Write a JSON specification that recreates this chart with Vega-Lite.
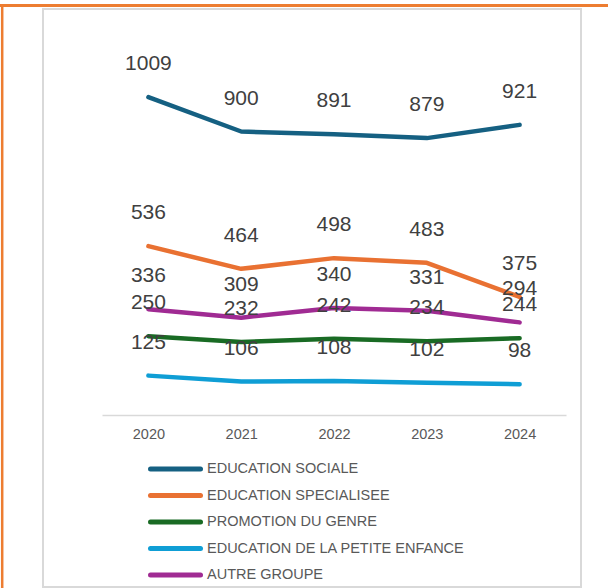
{
  "$schema": "https://vega.github.io/schema/vega-lite/v6.json",
  "width": 538,
  "height": 578,
  "autosize": {"type": "none"},
  "padding": {"left": 43, "top": 9, "right": 27, "bottom": 1},
  "background": "white",
  "config": {
    "font": "Liberation Sans",
    "view": {"stroke": "#d9d9d9", "strokeWidth": 2}
  },
  "datasets": {
    "enrol": [
      {"year": 2020, "series": "EDUCATION SOCIALE", "value": 1009},
      {"year": 2021, "series": "EDUCATION SOCIALE", "value": 900},
      {"year": 2022, "series": "EDUCATION SOCIALE", "value": 891},
      {"year": 2023, "series": "EDUCATION SOCIALE", "value": 879},
      {"year": 2024, "series": "EDUCATION SOCIALE", "value": 921},
      {"year": 2020, "series": "EDUCATION SPECIALISEE", "value": 536},
      {"year": 2021, "series": "EDUCATION SPECIALISEE", "value": 464},
      {"year": 2022, "series": "EDUCATION SPECIALISEE", "value": 498},
      {"year": 2023, "series": "EDUCATION SPECIALISEE", "value": 483},
      {"year": 2024, "series": "EDUCATION SPECIALISEE", "value": 375},
      {"year": 2020, "series": "PROMOTION DU GENRE", "value": 250},
      {"year": 2021, "series": "PROMOTION DU GENRE", "value": 232},
      {"year": 2022, "series": "PROMOTION DU GENRE", "value": 242},
      {"year": 2023, "series": "PROMOTION DU GENRE", "value": 234},
      {"year": 2024, "series": "PROMOTION DU GENRE", "value": 244},
      {"year": 2020, "series": "EDUCATION DE LA PETITE ENFANCE", "value": 125},
      {"year": 2021, "series": "EDUCATION DE LA PETITE ENFANCE", "value": 106},
      {"year": 2022, "series": "EDUCATION DE LA PETITE ENFANCE", "value": 108},
      {"year": 2023, "series": "EDUCATION DE LA PETITE ENFANCE", "value": 102},
      {"year": 2024, "series": "EDUCATION DE LA PETITE ENFANCE", "value": 98},
      {"year": 2020, "series": "AUTRE GROUPE", "value": 336},
      {"year": 2021, "series": "AUTRE GROUPE", "value": 309},
      {"year": 2022, "series": "AUTRE GROUPE", "value": 340},
      {"year": 2023, "series": "AUTRE GROUPE", "value": 331},
      {"year": 2024, "series": "AUTRE GROUPE", "value": 294}
    ]
  },
  "layer": [
    {
      "data": {"name": "enrol"},
      "mark": {"type": "line", "strokeWidth": 4.5, "strokeCap": "round", "strokeJoin": "round"},
      "encoding": {
        "x": {
          "field": "year", "type": "quantitative",
          "scale": {"domain": [2019.5, 2024.5], "range": [59, 523], "nice": false, "zero": false},
          "axis": {
            "title": null, "values": [2020, 2021, 2022, 2023, 2024], "format": "d",
            "grid": false, "ticks": false, "offset": -172,
            "domainColor": "#d9d9d9", "domainWidth": 1.7,
            "labelFontSize": 14.5, "labelColor": "#595959", "labelPadding": 12,
            "labelFlush": false, "labelOverlap": false
          }
        },
        "y": {
          "field": "value", "type": "quantitative",
          "scale": {"domain": [0, 1200], "range": [406, 28], "nice": false, "zero": false},
          "axis": null
        },
        "color": {
          "field": "series", "type": "nominal",
          "scale": {
            "domain": ["EDUCATION SOCIALE", "EDUCATION SPECIALISEE", "PROMOTION DU GENRE", "EDUCATION DE LA PETITE ENFANCE", "AUTRE GROUPE"],
            "range": ["#156082", "#E97132", "#196B24", "#0F9ED5", "#A02B93"]
          },
          "legend": {
            "title": null, "orient": "none", "legendX": 125, "legendY": 452.5,
            "direction": "vertical", "padding": 0,
            "symbolType": "M-5,0H5", "symbolSize": 100, "symbolStrokeWidth": 5,
            "labelFontSize": 14.5, "labelColor": "#595959", "labelOffset": 24,
            "labelLimit": 0,
            "rowPadding": 5.5,
            "encode": {"symbols": {"update": {"strokeCap": {"value": "round"}}}}
          }
        },
        "order": {"field": "series"}
      }
    },
    {
      "data": {"name": "enrol"},
      "mark": {"type": "text", "fontSize": 21, "color": "#404040", "dy": -33, "align": "center", "baseline": "middle"},
      "encoding": {
        "x": {"field": "year", "type": "quantitative"},
        "y": {"field": "value", "type": "quantitative"},
        "text": {"field": "value", "type": "quantitative", "format": "d"}
      }
    },
    {
      "data": {"values": [{}]},
      "mark": {"type": "rule", "color": "#ED7D31", "strokeWidth": 3},
      "encoding": {
        "x": {"datum": 2018.4, "type": "quantitative"},
        "x2": {"datum": 2024.96},
        "y": {"datum": 1300, "type": "quantitative"}
      }
    },
    {
      "data": {"values": [{}]},
      "mark": {"type": "rule", "color": "#ED7D31", "strokeWidth": 2.5},
      "encoding": {
        "x": {"datum": 2018.4246, "type": "quantitative"},
        "y": {"datum": -550, "type": "quantitative"},
        "y2": {"datum": 1304.8}
      }
    }
  ]
}
